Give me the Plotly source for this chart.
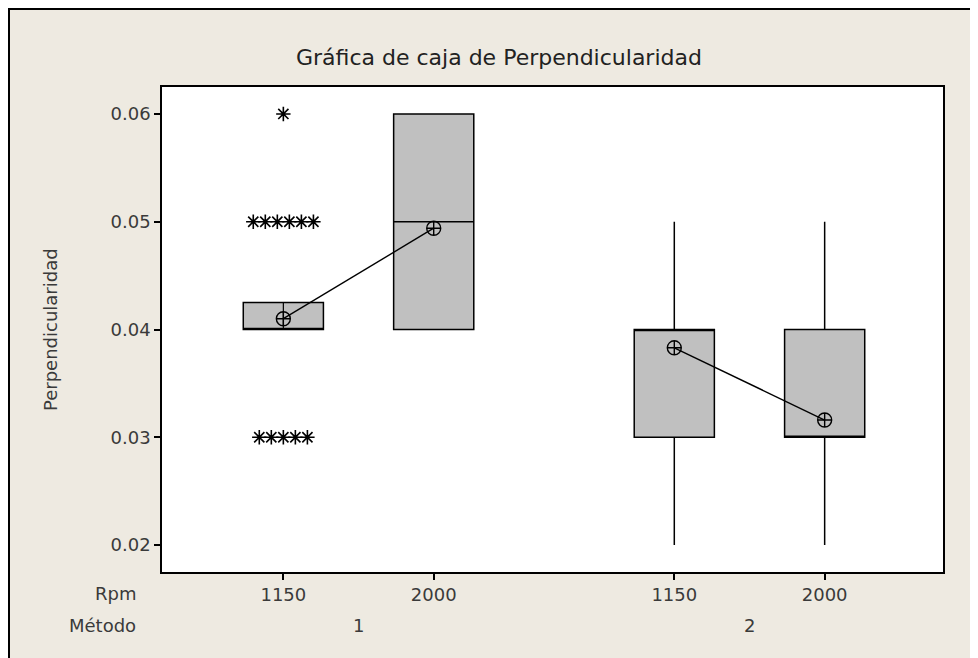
import plotly.graph_objects as go
from collections import Counter

# ---- data ----
metodo = ["1", "1", "2", "2"]
rpm = ["1150", "2000", "1150", "2000"]
q1 = [0.040, 0.040, 0.030, 0.030]
median = [0.040, 0.050, 0.040, 0.030]
q3 = [0.0425, 0.060, 0.040, 0.040]
lower_whisker = [0.040, 0.040, 0.020, 0.020]
upper_whisker = [0.0425, 0.060, 0.050, 0.050]
means = [0.0410, 0.0494, 0.0383, 0.0316]
# outliers of group (Método 1, Rpm 1150)
outliers_1150_m1 = [0.06, 0.05, 0.05, 0.05, 0.05, 0.05, 0.05,
                    0.03, 0.03, 0.03, 0.03, 0.03]
y_ticks = [0.02, 0.03, 0.04, 0.05, 0.06]

# ---- positions (group gap) ----
group_gap = 0.6
pos = []
groups = []
for i, m in enumerate(metodo):
    if m not in groups:
        groups.append(m)
    pos.append(i + 1 + group_gap * groups.index(m))

BG = "#EEEAE1"
FONT = "DejaVu Sans"
TXT = "#3a3a3a"
fig = go.Figure()

for i in range(4):
    fig.add_trace(go.Box(
        x=[pos[i]], q1=[q1[i]], median=[median[i]], q3=[q3[i]],
        lowerfence=[lower_whisker[i]], upperfence=[upper_whisker[i]],
        width=0.533, fillcolor="#C0C0C0",
        line=dict(color="black", width=1.5), whiskerwidth=0,
        boxpoints=False, showlegend=False, hoverinfo="skip"))

# whisker line drawn through the first box
fig.add_trace(go.Scatter(x=[pos[0], pos[0]], y=[lower_whisker[0], upper_whisker[0]],
                         mode="lines", line=dict(color="black", width=1.2),
                         showlegend=False, hoverinfo="skip"))

# outliers with side-by-side spreading of ties
counts = Counter(outliers_1150_m1)
seen = Counter()
ox, oy = [], []
step = 0.08
for v in outliers_1150_m1:
    n = counts[v]
    k = seen[v]
    seen[v] += 1
    ox.append(pos[0] + (k - (n - 1) / 2) * step)
    oy.append(v)
fig.add_trace(go.Scatter(x=ox, y=oy, mode="markers",
                         marker=dict(symbol="asterisk-open", size=12, color="black",
                                     line=dict(color="black", width=1.6)),
                         showlegend=False))

# mean connect lines per group
for g in groups:
    idx = [i for i in range(4) if metodo[i] == g]
    fig.add_trace(go.Scatter(
        x=[pos[i] for i in idx], y=[means[i] for i in idx],
        mode="lines+markers", line=dict(color="black", width=1.4),
        marker=dict(symbol="circle-cross-open", size=14, color="black",
                    line=dict(color="black", width=1.4)),
        showlegend=False))

W, H = 978, 658
L, R, T, B = 154, 43, 79, 94
pw, ph = W - L - R, H - T - B

def px(x):
    return (x - L) / pw

def py(y):
    return (H - B - y) / ph

annotations = [
    dict(text="Gráfica de caja de Perpendicularidad", x=px(491), y=py(49),
         xref="paper", yref="paper", showarrow=False,
         font=dict(size=22, color="#222222", family=FONT), xanchor="center", yanchor="middle"),
    dict(text="Rpm", x=px(130), y=py(585), xref="paper", yref="paper", showarrow=False,
         font=dict(size=18, color=TXT, family=FONT), xanchor="right", yanchor="middle"),
    dict(text="Método", x=px(130), y=py(617), xref="paper", yref="paper", showarrow=False,
         font=dict(size=18, color=TXT, family=FONT), xanchor="right", yanchor="middle"),
    dict(text="Perpendicularidad", x=px(42), y=py(322), xref="paper", yref="paper",
         showarrow=False, textangle=-90,
         font=dict(size=18, color=TXT, family=FONT), xanchor="center", yanchor="middle"),
]
for g in groups:
    idx = [i for i in range(4) if metodo[i] == g]
    cx = sum(pos[i] for i in idx) / len(idx)
    annotations.append(dict(text=g, x=cx, y=py(617), xref="x", yref="paper",
                            showarrow=False, font=dict(size=18, color=TXT, family=FONT),
                            xanchor="center", yanchor="middle"))

fig.update_layout(
    width=W, height=H,
    margin=dict(l=L, r=R, t=T, b=B),
    paper_bgcolor=BG, plot_bgcolor="white",
    font=dict(family=FONT, color=TXT, size=18),
    annotations=annotations,
    shapes=[
        dict(type="path", xref="paper", yref="paper",
             path=f"M {px(1)},{py(H + 20)} L {px(1)},{py(1)} L {px(W + 20)},{py(1)}",
             line=dict(color="black", width=2)),
    ],
    xaxis=dict(range=[0.193, pos[3] + 0.787], tickvals=pos, ticktext=rpm,
               ticks="outside", ticklen=6, tickwidth=1.5, tickcolor="black",
               showgrid=False, zeroline=False, showline=True, linecolor="black",
               linewidth=1.5, mirror=True, tickfont=dict(size=18, color=TXT)),
    yaxis=dict(range=[0.0175, 0.0625], tickvals=y_ticks,
               ticktext=[f"{v:.2f}" for v in y_ticks],
               ticks="outside", ticklen=6, tickwidth=1.5, tickcolor="black",
               showgrid=False, zeroline=False, showline=True, linecolor="black",
               linewidth=1.5, mirror=True, tickfont=dict(size=18, color=TXT)),
)

fig.write_html("out.html")
